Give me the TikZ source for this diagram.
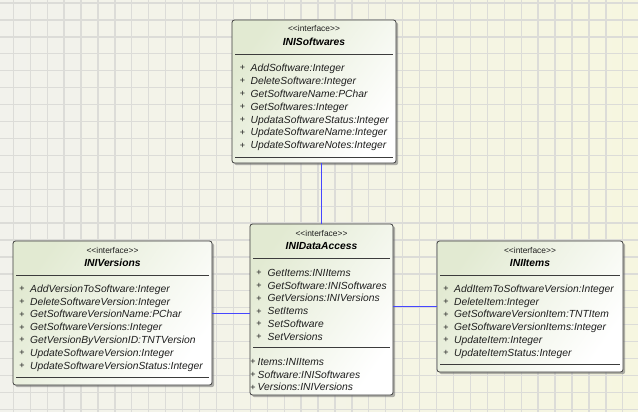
\documentclass[tikz,border=0pt]{standalone}
\usepackage{fontspec}
\setmainfont{Liberation Sans}
\usetikzlibrary{shadows}
\definecolor{bgL}{HTML}{F2F2EC}
\definecolor{bgR}{HTML}{F6F6E0}
\definecolor{gridc}{HTML}{DCDCD8}
\definecolor{boxg}{HTML}{E2EAD2}
\definecolor{edge}{HTML}{3C3C3C}
\definecolor{conn}{HTML}{4646FF}
\definecolor{txt}{HTML}{1E1E1E}
\tikzset{
  x=1pt, y=-1pt,
  classbox/.style={draw=edge, line width=0.8pt, rounded corners=2.5pt,
    top color=boxg, bottom color=white, shading angle=55,
    drop shadow={shadow xshift=2.2pt, shadow yshift=-2.2pt, fill=black!55, opacity=0.55},
    inner sep=0pt, outer sep=0pt},
  stereo/.style={font=\fontsize{8.4}{9}\selectfont, text=txt, inner sep=0pt, text height=6pt, text depth=0pt},
  umltitle/.style={font=\fontsize{10.3}{12}\selectfont\bfseries\itshape, text=black, inner sep=0pt, text height=7.4pt, text depth=0pt},
  meth/.style={font=\fontsize{10.3}{12}\selectfont\itshape, text=txt, anchor=west, inner sep=0pt, text height=7.4pt, text depth=0pt},
  plus/.style={font=\fontsize{9}{10}\selectfont, text=txt, inner sep=0pt, text height=6pt, text depth=0pt},
  sep/.style={draw=edge, line width=1pt},
  connector/.style={draw=conn, line width=1pt},
}
\newcommand\umlclass[6]{%
  \node[classbox, minimum width={#4-#2}, minimum height={#5-#3}] (#1) at ({(#2+#4)/2},{(#3+#5)/2}) {};
  \node[stereo] (#1-st) at ({(#2+#4)/2},{#3+9}) {<\kern0pt<interface>\kern0pt>};
  \node[umltitle] (#1-t) at ({(#2+#4)/2},{#3+21.5}) {#6};
  \draw[sep] ({#2+3},{#3+34.5}) -- ({#4-3},{#3+34.5});
}
% name, left, right, first y, plus offset, text offset, list
\newcommand\umlrows[7]{%
  \foreach \m [count=\i from 0] in {#7} {
    \node[plus] (#1-p\i) at ({#2+#5},{#4+\i*12.85}) {+};
    \node[meth] (#1-m\i) at ({#2+#6},{#4+\i*12.85}) {\m};
  }
}
\begin{document}
\begin{tikzpicture}
\useasboundingbox (0,0) rectangle (638,412);
\shade[left color=bgL, right color=bgR] (0,0) rectangle (638,412);
\foreach \k in {0,...,37} {
  \draw[gridc, line width=1.3pt] ({13.3+\k*16.93},0) -- ({13.3+\k*16.93},412);
}
\foreach \k in {0,...,24} {
  \draw[gridc, line width=1.3pt] (0,{3+\k*16.93}) -- (638,{3+\k*16.93});
}

% INISoftwares
\umlclass{soft}{232}{20}{396}{163}{INISoftwares}
\umlrows{soft}{232}{396}{68}{10.5}{18.5}{AddSoftware:Integer,DeleteSoftware:Integer,GetSoftwareName:PChar,GetSoftwares:Integer,UpdataSoftwareStatus:Integer,UpdateSoftwareName:Integer,UpdateSoftwareNotes:Integer}
\draw[sep] (235,157.5) -- (393,157.5);

% INIDataAccess
\umlclass{data}{250}{224}{393}{395}{INIDataAccess}
\umlrows{data}{250}{393}{272.5}{9}{17.5}{GetItems:INIItems,GetSoftware:INISoftwares,GetVersions:INIVersions,SetItems,SetSoftware,SetVersions}
\draw[sep] (253,347.7) -- (390,347.7);
\umlrows{dataA}{250}{393}{361.5}{3}{7.5}{Items:INIItems,Software:INISoftwares,Versions:INIVersions}

% INIVersions
\umlclass{ver}{13}{241}{212}{385}{INIVersions}
\umlrows{ver}{13}{212}{288.5}{9}{17}{AddVersionToSoftware:Integer,DeleteSoftwareVersion:Integer,GetSoftwareVersionName:PChar,GetSoftwareVersions:Integer,GetVersionByVersionID:TNTVersion,UpdateSoftwareVersion:Integer,UpdateSoftwareVersionStatus:Integer}
\draw[sep] (16,377.5) -- (209,377.5);

% INIItems
\umlclass{items}{437}{241}{623}{372}{INIItems}
\umlrows{items}{437}{623}{288.5}{9}{17}{AddItemToSoftwareVersion:Integer,DeleteItem:Integer,GetSoftwareVersionItem:TNTItem,GetSoftwareVersionItems:Integer,UpdateItem:Integer,UpdateItemStatus:Integer}
\draw[sep] (440,364.3) -- (620,364.3);

% connectors
\draw[connector] (data.north) -- (data.north |- soft.south);
\draw[connector] (ver.east) -- (ver.east -| data.west);
\draw[connector] (items.west) -- (items.west -| data.east);
\end{tikzpicture}
\end{document}
